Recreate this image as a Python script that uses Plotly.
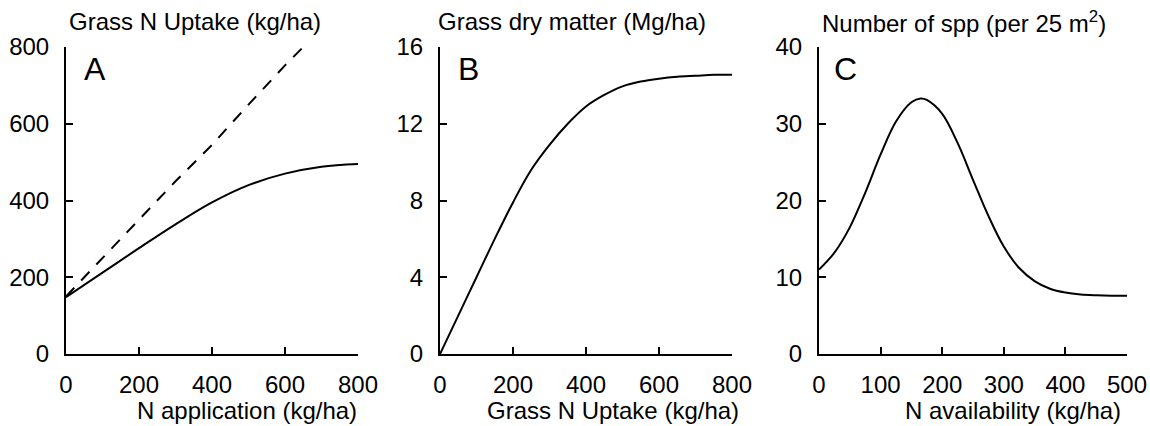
import plotly.graph_objects as go

# Panel A
a_x = [0, 100, 200, 300, 400, 500, 600, 700, 800]
a_solid = [148, 212, 276, 338, 395, 440, 470, 488, 495]
a_dash_x = [0, 100, 200, 300, 400, 500, 600, 650]
a_dash = [150, 250, 350, 450, 545, 650, 752, 800]

# Panel B
b_x = [0, 50, 100, 150, 200, 250, 300, 350, 400, 450, 500, 550, 600, 650, 700, 750, 800]
b_y = [0, 2.0, 4.0, 6.0, 7.9, 9.6, 10.9, 12.0, 12.9, 13.5, 13.95, 14.2, 14.35, 14.45, 14.5, 14.55, 14.55]

# Panel C
c_x = [0, 25, 50, 75, 100, 125, 150, 165, 175, 200, 225, 250, 275, 300, 325, 350, 375, 400, 425, 450, 475, 500]
c_y = [11.0, 13.2, 16.5, 21.0, 26.0, 30.3, 32.8, 33.3, 33.1, 31.3, 27.5, 22.7, 18.0, 14.0, 11.2, 9.5, 8.5, 8.0, 7.75, 7.65, 7.6, 7.6]

a_ticks = [0, 200, 400, 600, 800]
b_xticks = [0, 200, 400, 600, 800]
b_yticks = [0, 4, 8, 12, 16]
c_xticks = [0, 100, 200, 300, 400, 500]
c_yticks = [0, 10, 20, 30, 40]

FONT = "Liberation Sans, Arial, sans-serif"
FS = 24
W, H = 1150, 426
fig = go.Figure()
fig.add_trace(go.Scatter(x=a_x, y=a_solid, mode="lines", line=dict(color="black", width=2, shape="spline"), xaxis="x", yaxis="y"))
fig.add_trace(go.Scatter(x=a_dash_x, y=a_dash, mode="lines", line=dict(color="black", width=2, dash="12px,10px"), xaxis="x", yaxis="y"))
fig.add_trace(go.Scatter(x=b_x, y=b_y, mode="lines", line=dict(color="black", width=2, shape="spline"), xaxis="x2", yaxis="y2"))
fig.add_trace(go.Scatter(x=c_x, y=c_y, mode="lines", line=dict(color="black", width=2, shape="spline"), xaxis="x3", yaxis="y3"))

ydom = [(H - 354) / H, (H - 47) / H]
xd = [(66, 358), (440, 732), (819, 1127)]
common = dict(showline=True, linecolor="black", linewidth=2, ticks="inside", ticklen=7, tickwidth=2,
              tickcolor="black", showgrid=False, zeroline=False, automargin=False,
              tickfont=dict(family=FONT, size=FS, color="black"))
lay = dict(template="none", width=W, height=H, margin=dict(l=0, r=0, t=0, b=0, pad=0, autoexpand=False),
           showlegend=False, plot_bgcolor="white", paper_bgcolor="white", font=dict(family=FONT, color="black"))
ranges = [((0, 800), a_ticks, (0, 800), a_ticks),
          ((0, 800), b_xticks, (0, 16), b_yticks),
          ((0, 500), c_xticks, (0, 40), c_yticks)]
for i, ((xr, xt, yr, yt), (x0, x1)) in enumerate(zip(ranges, xd)):
    s = "" if i == 0 else str(i + 1)
    lay["xaxis" + s] = dict(domain=[x0 / W, x1 / W], range=list(xr), tickvals=xt, anchor="y" + s,
                            ticklabelstandoff=8, **common)
    lay["yaxis" + s] = dict(domain=ydom, range=list(yr), tickvals=yt, anchor="x" + s,
                            ticklabelstandoff=10, **common)
fig.update_layout(**lay)

titles = [("Grass N Uptake (kg/ha)", 68), ("Grass dry matter (Mg/ha)", 437), ("Number of spp (per 25 m<sup>2</sup>)", 821)]
xtitles = [("N application (kg/ha)", 358), ("Grass N Uptake (kg/ha)", 740), ("N availability (kg/ha)", 1122)]
letters = [("A", 83), ("B", 457), ("C", 833)]
for t, x in titles:
    fig.add_annotation(text=t, x=x / W, y=1 - 22 / H, xref="paper", yref="paper", xanchor="left", yanchor="middle",
                       showarrow=False, borderpad=0, font=dict(family=FONT, size=FS, color="black"))
for t, x in xtitles:
    fig.add_annotation(text=t, x=x / W, y=1 - 410 / H, xref="paper", yref="paper", xanchor="right", yanchor="middle",
                       showarrow=False, borderpad=0, font=dict(family=FONT, size=FS, color="black"))
for t, x in letters:
    fig.add_annotation(text=t, x=x / W, y=1 - 69 / H, xref="paper", yref="paper", xanchor="left", yanchor="middle",
                       showarrow=False, borderpad=0, font=dict(family=FONT, size=32, color="black"))

fig.write_html("out.html", post_script="document.body.style.margin='0';")
